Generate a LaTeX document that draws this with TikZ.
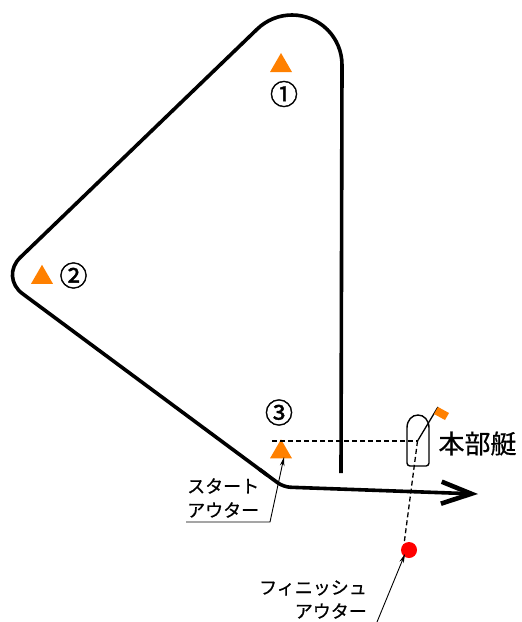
\documentclass[tikz,border=0pt]{standalone}
\usepackage{fontspec}
\newfontfamily\jp[FakeBold=0.6]{Noto Sans CJK JP}
\newfontfamily\jpnum[FakeBold=1.6]{Noto Sans CJK JP}
\usetikzlibrary{arrows.meta,shapes.geometric}
\definecolor{mkorange}{RGB}{255,128,0}
\definecolor{dotred}{RGB}{255,0,0}
\begin{document}
\begin{tikzpicture}[x=1bp,y=-1bp,
  course/.style={line width=3.6bp, line join=round},
  buoy/.style={regular polygon, regular polygon sides=3, fill=mkorange, minimum size=25.4bp, inner sep=0pt},
  num/.style={font=\jpnum\fontsize{28bp}{30bp}\selectfont, inner sep=0pt},
  lbl/.style={font=\jp\fontsize{18bp}{20bp}\selectfont, inner sep=0pt},
  leader/.style={line width=0.9bp, -{Stealth[length=9bp,width=4.5bp]}},
  guide/.style={dash pattern=on 5bp off 3bp, line width=1.3bp},
  boatline/.style={line width=1.4bp}]
\useasboundingbox (0,0) rectangle (522,622);

% marks
\node[buoy] (t1) at (281,65.7) {};
\node[buoy] (t2) at (42,277.5) {};
\node[buoy] (t3) at (281,452) {};
\node[num] (n1) at (284,94) {①};
\node[num] (n2) at (73.5,275.5) {②};
\node[num] (n3) at (279,412.5) {③};

% course
\coordinate (c0) at (341,473);
\coordinate (c1) at (342,65);
\coordinate (c2) at (0,277);
\coordinate (c3a) at (267.3,475.1);
\coordinate (c3b) at (259.3,469.2);
\coordinate (c3) at (283.4,487);
\coordinate (c4) at (478,494);
\draw[course] (c0) -- (c1) arc[start angle=0,end angle=134,radius=50bp] [rounded corners=28bp] -- (c2) -- (c3a);
\draw[course, rounded corners=7bp, -{Straight Barb[length=30bp,width=22bp,line width=4.6bp]}] (c3b) -- (c3) -- (c4);

% committee boat
\coordinate (bc) at (417.5,441);
\coordinate (g0) at (272,441);
\coordinate (ftop) at (438,407);
\coordinate (fp) at (403,552);
\draw[guide] (g0) -- (bc);
\draw[guide] (bc) -- (fp);
\draw[boatline] (407,428) .. controls (407,420) and (412,415) .. (418,415) .. controls (424,415) and (429,420) .. (429,428) -- (429,463) arc[start angle=0,end angle=-90,radius=3bp] -- (410,466) arc[start angle=270,end angle=180,radius=3bp] -- cycle;
\draw[line width=1.3bp] (bc) -- (ftop);
\fill[mkorange] (ftop) -- ++(11,6) -- ++(-4,7) -- ++(-11,-6) -- cycle;
\node[font=\jp\fontsize{26bp}{28bp}\selectfont, inner sep=0pt] (hq) at (477.5,443.5) {本部艇};

% finish outer mark
\node[circle, fill=dotred, minimum size=16bp, inner sep=0pt] (dot) at (409,550) {};

% labels
\node[lbl, anchor=west] (s1) at (187,486) {スタート};
\node[lbl, anchor=west] (s2) at (187,510) {アウター};
\coordinate (sl0) at (186,522);
\coordinate (sl1) at (270,522);
\coordinate (st) at (284,457);
\draw[leader] (sl0) -- (sl1) -- (st);

\node[lbl, anchor=east] (f1) at (367,588) {フィニッシュ};
\node[lbl, anchor=east] (f2) at (367,611) {アウター};
\coordinate (fl) at (377,622);
\coordinate (ft) at (405,554);
\draw[leader] (fl) -- (ft);
\end{tikzpicture}
\end{document}
